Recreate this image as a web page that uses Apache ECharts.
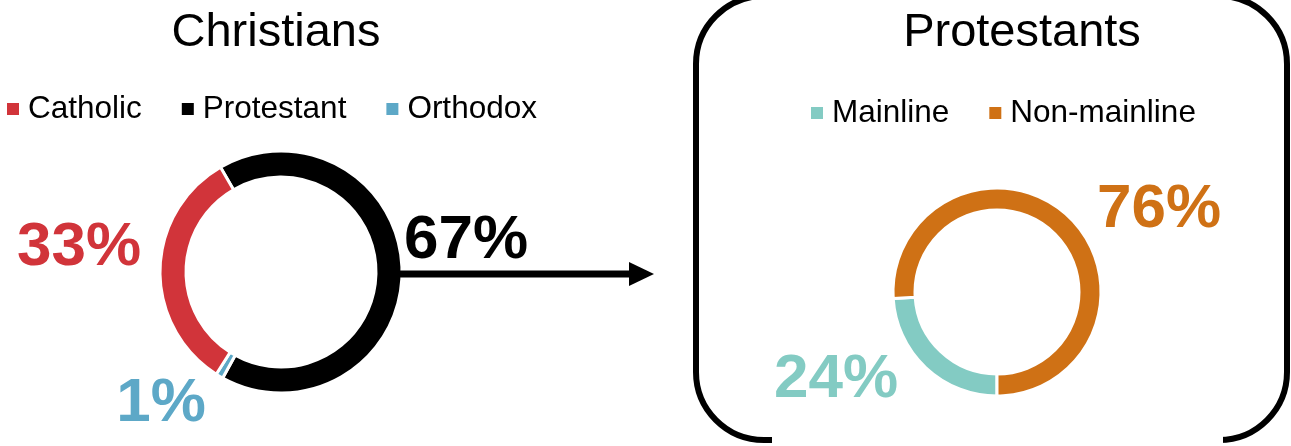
<!DOCTYPE html>
<html>
<head>
<meta charset="utf-8">
<script src="https://cdn.jsdelivr.net/npm/echarts@6/dist/echarts.min.js"></script>
<style>
html,body{margin:0;padding:0;background:#fff;}
#chart{width:1291px;height:446px;}
</style>
</head>
<body>
<div id="chart"></div>
<script>
// ---- data ----
const titles = ['Christians', 'Protestants'];
const christianCats = ['Protestant', 'Orthodox', 'Catholic'];
const christianVals = [67, 1, 33];
const christianLegend = ['Catholic', 'Protestant', 'Orthodox'];
const protestantCats = ['Mainline', 'Non-mainline'];
const protestantVals = [24, 76];

const christianColors = {Protestant: '#000000', Orthodox: '#5DA8C7', Catholic: '#D1343A'};
const protestantColors = {Mainline: '#83CBC3', 'Non-mainline': '#CF7115'};

const FONT = 'Liberation Sans, Arial, sans-serif';

const chart = echarts.init(document.getElementById('chart'), null, {renderer: 'canvas'});

function pct(v) { return v + '%'; }

const labelStyle = (txt, x, y, color) => ({
  type: 'text', x: x, y: y, z: 10,
  style: {
    text: txt, fill: color, font: 'bold 62px ' + FONT,
    textAlign: 'center', textVerticalAlign: 'middle'
  }
});

const legendBase = {
  orient: 'horizontal', padding: 0,
  icon: 'rect', itemWidth: 12, itemHeight: 12, itemGap: 40,
  itemStyle: {borderWidth: 0},
  textStyle: {fontFamily: FONT, fontSize: 31.5, color: '#000', padding: [0, 0, 0, 4]},
  selectedMode: false
};

const option = {
  backgroundColor: '#ffffff',
  animation: false,
  title: [
    {text: titles[0], left: 271, top: 5, textAlign: 'center',
     textStyle: {fontFamily: FONT, fontSize: 47, fontWeight: 'normal', color: '#000'}},
    {text: titles[1], left: 1017, top: 5, textAlign: 'center',
     textStyle: {fontFamily: FONT, fontSize: 47, fontWeight: 'normal', color: '#000'}}
  ],
  legend: [
    Object.assign({}, legendBase, {data: christianLegend, left: 7, top: 93}),
    Object.assign({}, legendBase, {data: protestantCats, left: 811, top: 97})
  ],
  series: [
    {
      type: 'pie', name: titles[0],
      center: [281, 272], radius: [95, 121],
      startAngle: 120, clockwise: true,
      label: {show: false}, labelLine: {show: false},
      silent: true,
      itemStyle: {borderColor: '#fff', borderWidth: 3},
      data: christianCats.map((c, i) => ({name: c, value: christianVals[i], itemStyle: {color: christianColors[c]}}))
    },
    {
      type: 'pie', name: titles[1],
      center: [997, 292], radius: [82, 104],
      startAngle: -90, clockwise: true,
      label: {show: false}, labelLine: {show: false},
      silent: true,
      itemStyle: {borderColor: '#fff', borderWidth: 3},
      data: protestantCats.map((c, i) => ({name: c, value: protestantVals[i], itemStyle: {color: protestantColors[c]}}))
    }
  ],
  graphic: [
    // rounded box around Protestants
    {type: 'rect', z: 1, shape: {x: 696, y: -4, width: 591, height: 444, r: 68},
     style: {fill: 'none', stroke: '#000', lineWidth: 6}},
    {type: 'rect', z: 2, shape: {x: 772, y: 430, width: 451, height: 16},
     style: {fill: '#fff', stroke: 'none'}},
    // arrow
    {type: 'line', z: 3, shape: {x1: 400, y1: 274, x2: 632, y2: 274},
     style: {stroke: '#000', lineWidth: 7}},
    {type: 'polygon', z: 3, shape: {points: [[629, 262], [654, 274], [629, 286]]},
     style: {fill: '#000'}},
    // value labels
    labelStyle(pct(christianVals[0]), 466, 241, christianColors.Protestant),
    labelStyle(pct(christianVals[2]), 79, 248, christianColors.Catholic),
    labelStyle(pct(christianVals[1]), 161, 404, christianColors.Orthodox),
    labelStyle(pct(protestantVals[1]), 1159, 210, protestantColors['Non-mainline']),
    labelStyle(pct(protestantVals[0]), 836, 380, protestantColors.Mainline)
  ]
};

chart.setOption(option);
</script>
</body>
</html>
